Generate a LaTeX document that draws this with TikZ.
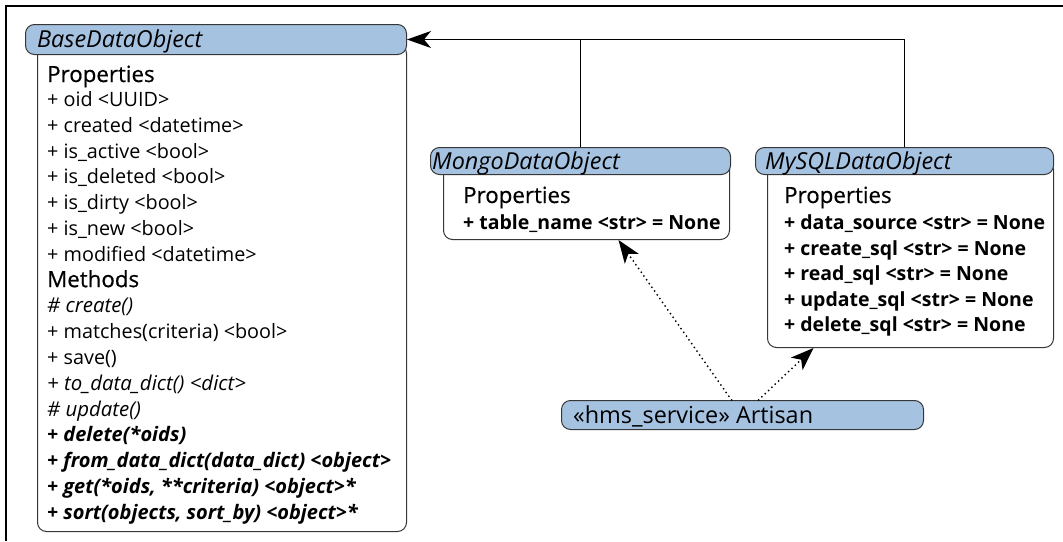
\documentclass[tikz,border=0pt]{standalone}
\usepackage{fontspec}
\setmainfont{Open Sans}
\newfontfamily\secfont[FakeBold=0.6]{Open Sans}
\usetikzlibrary{arrows.meta}
\definecolor{hdrc}{RGB}{165,194,225}
\definecolor{bordc}{RGB}{55,55,55}
\newcommand{\itemsz}{\fontsize{19.8}{22}\selectfont}
\newcommand{\itsz}{\fontsize{20.4}{22}\selectfont}
\newcommand{\bisz}{\fontsize{20}{22}\selectfont}
\newcommand{\bdsz}{\fontsize{19.5}{22}\selectfont}
\newcommand{\secsz}{\fontsize{22.3}{26}\selectfont}
\newcommand{\hdrsz}{\fontsize{23.4}{26}\selectfont}
\begin{document}
\begin{tikzpicture}[x=1pt,y=-1pt,
  hdrbox/.style={draw=bordc, fill=hdrc, rounded corners=9pt, line width=1pt, inner sep=0pt, anchor=north west},
  bodybox/.style={draw=bordc, fill=white, rounded corners=9pt, line width=1pt, inner sep=0pt, anchor=north west},
  txt/.style={anchor=base west, inner sep=0pt, font=\itemsz},
  sec/.style={anchor=base west, inner sep=0pt, font=\secfont\secsz},
  htxt/.style={anchor=base west, inner sep=0pt, font=\hdrsz\itshape},
  it/.style={font=\itsz\itshape},
  bi/.style={font=\bisz\bfseries\itshape},
  bd/.style={font=\bdsz\bfseries},
  conn/.style={line width=1.5pt, draw=black},
  inh/.style={conn, -{Stealth[length=24pt,width=17pt,inset=7pt]}},
  dep/.style={line width=2pt, line cap=round, dash pattern=on 0pt off 4.6pt, -{Stealth[length=23pt,width=17pt,inset=6pt]}}
]
\useasboundingbox (0,0) rectangle (1063,541);
\fill[white] (0,0) rectangle (1063,541);
\draw[line width=2.5pt] (6,541) -- (6,6) -- (1063,6);

% BaseDataObject
\node[bodybox, minimum width=369pt, minimum height=487pt] (basebody) at (37,44) {};
\node[hdrbox, minimum width=381pt, minimum height=30pt] (base) at (25,24) {};
\node[htxt] (basename) at (37,47.5) {BaseDataObject};
\node[sec] (b0) at (47,82) {Properties};
\node[txt] (b1) at (47,106.5) {+ oid <UUID>};
\node[txt] (b2) at (47,132.3) {+ created <datetime>};
\node[txt] (b3) at (47,158.1) {+ is\_active <bool>};
\node[txt] (b4) at (47,183.9) {+ is\_deleted <bool>};
\node[txt] (b5) at (47,209.7) {+ is\_dirty <bool>};
\node[txt] (b6) at (47,235.5) {+ is\_new <bool>};
\node[txt] (b7) at (47,261.3) {+ modified <datetime>};
\node[sec] (b8) at (47,287.1) {Methods};
\node[txt,it] (b9) at (47,312.9) {\# create()};
\node[txt] (b10) at (47,338.7) {+ matches(criteria) <bool>};
\node[txt] (b11) at (47,364.5) {+ save()};
\node[txt,it] (b12) at (47,390.3) {+ to\_data\_dict() <dict>};
\node[txt,it] (b13) at (47,416.1) {\# update()};
\node[txt,bi] (b14) at (47,441.9) {+ delete(*oids)};
\node[txt,bi] (b15) at (47,467.7) {+ from\_data\_dict(data\_dict) <object>};
\node[txt,bi] (b16) at (47,493.5) {+ get(*oids, **criteria) <object>*};
\node[txt,bi] (b17) at (47,519.3) {+ sort(objects, sort\_by) <object>*};

% MongoDataObject
\node[bodybox, minimum width=286pt, minimum height=79pt] (mongobody) at (443,160) {};
\node[hdrbox, minimum width=300pt, minimum height=27pt] (mongo) at (430,147) {};
\node[htxt] (mongoname) at (432,169) {MongoDataObject};
\node[sec] (m0) at (463,203) {Properties};
\node[txt,bd] (m1) at (463,229.5) {+ table\_name <str> = None};

% MySQLDataObject
\node[bodybox, minimum width=286pt, minimum height=187pt] (mysqlbody) at (767,160) {};
\node[hdrbox, minimum width=298pt, minimum height=27pt] (mysql) at (755,147) {};
\node[htxt] (mysqlname) at (765,169) {MySQLDataObject};
\node[sec] (s0) at (784,203) {Properties};
\node[txt,bd] (s1) at (784,229.5) {+ data\_source <str> = None};
\node[txt,bd] (s2) at (784,255.1) {+ create\_sql <str> = None};
\node[txt,bd] (s3) at (784,280.7) {+ read\_sql <str> = None};
\node[txt,bd] (s4) at (784,306.3) {+ update\_sql <str> = None};
\node[txt,bd] (s5) at (784,331.9) {+ delete\_sql <str> = None};

% Artisan
\node[hdrbox, minimum width=362pt, minimum height=29pt] (artisan) at (561,400) {};
\node[htxt, font=\hdrsz] (artisanname) at (573,423) {«hms\_service» Artisan};

% connectors
\draw[conn] (mongo.north) -- (mongo.north |- base.east);
\draw[inh] (mysql.north) |- (base.east);
\draw[dep] ([xshift=-11pt]artisan.north) -- ([xshift=32pt]mongobody.south);
\draw[dep] ([xshift=16pt]artisan.north) -- ([xshift=-97pt]mysqlbody.south);
\end{tikzpicture}
\end{document}
